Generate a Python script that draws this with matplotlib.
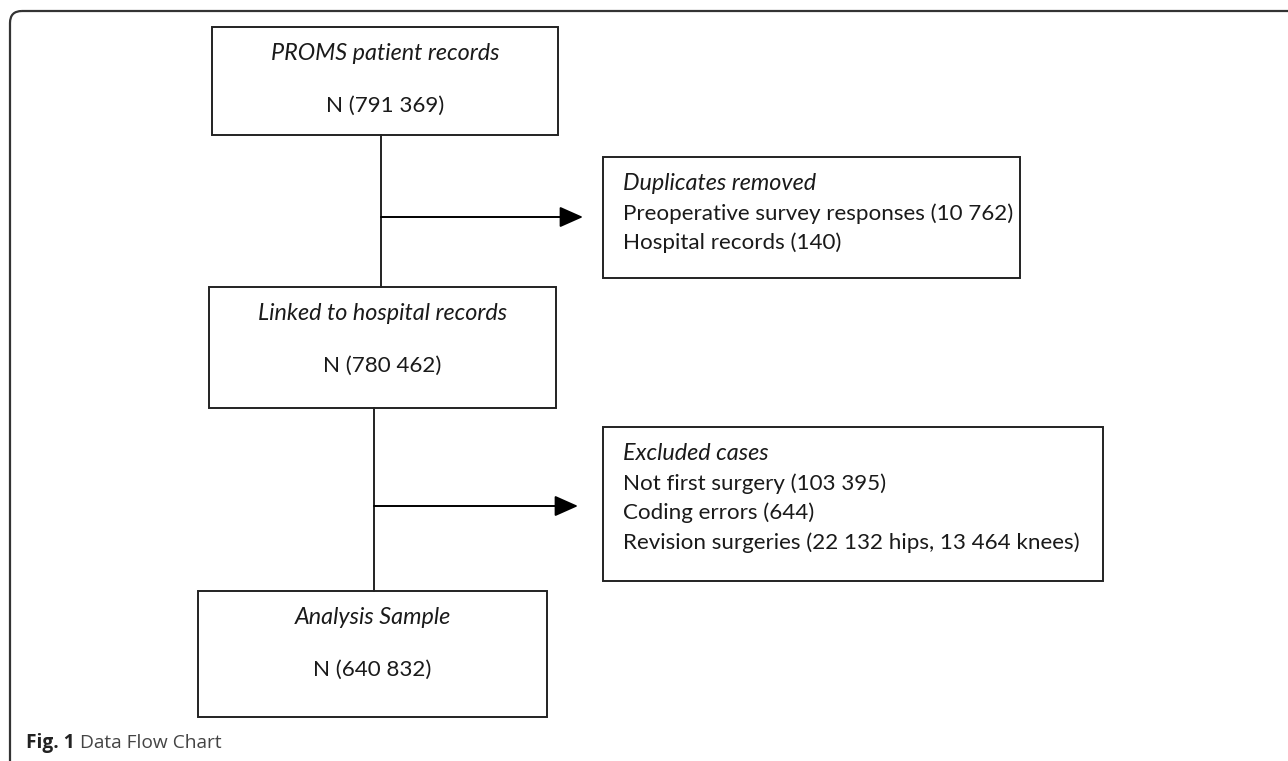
import matplotlib
matplotlib.use("Agg")
import matplotlib.pyplot as plt
from matplotlib.patches import FancyBboxPatch, Rectangle

# textos del diagrama
titulos_principales = ["PROMS patient records", "Linked to hospital records", "Analysis Sample"]
conteos_principales = ["N (791 369)", "N (780 462)", "N (640 832)"]

titulo_duplicados = "Duplicates removed"
lineas_duplicados = ["Preoperative survey responses (10 762)", "Hospital records (140)"]

titulo_excluidos = "Excluded cases"
lineas_excluidos = ["Not first surgery (103 395)", "Coding errors (644)",
                    "Revision surgeries (22 132 hips, 13 464 knees)"]

leyenda_fig = "Fig. 1"
leyenda_texto = "Data Flow Chart"

W, H = 1288, 761
fig = plt.figure(figsize=(W / 100, H / 100), dpi=100)
ax = fig.add_axes([0, 0, 1, 1])
ax.set_xlim(0, W)
ax.set_ylim(H, 0)
ax.axis("off")

color_linea = "#222222"
color_texto = "#1a1a1a"
fuente = "Lato"
tam = 16.1
tam_it = 16.8

# marco exterior redondeado
marco = FancyBboxPatch((10, 11), W + 40, H + 40,
                       boxstyle="round,pad=0,rounding_size=12",
                       fill=False, ec="#333333", lw=1.6)
ax.add_patch(marco)

# cajas principales (x0, y0, x1, y1) en pixeles
cajas = [(212, 27, 558, 135), (209, 287, 556, 408), (198, 591, 547, 717)]
for (x0, y0, x1, y1), t, n in zip(cajas, titulos_principales, conteos_principales):
    ax.add_patch(Rectangle((x0, y0), x1 - x0, y1 - y0, fill=False, ec=color_linea, lw=1.4))
    cx = (x0 + x1) / 2
    ax.text(cx, y0 + 26, t, ha="center", va="center", style="italic",
            fontsize=tam_it, family=fuente, color=color_texto)
    ax.text(cx, y0 + 79, n, ha="center", va="center",
            fontsize=tam, family=fuente, color=color_texto)

# cajas laterales
laterales = [((603, 157, 1020, 278), titulo_duplicados, lineas_duplicados),
             ((603, 427, 1103, 581), titulo_excluidos, lineas_excluidos)]
for (x0, y0, x1, y1), t, lineas in laterales:
    ax.add_patch(Rectangle((x0, y0), x1 - x0, y1 - y0, fill=False, ec=color_linea, lw=1.4))
    ax.text(x0 + 20, y0 + 27, t, ha="left", va="center", style="italic",
            fontsize=tam_it, family=fuente, color=color_texto)
    for i, l in enumerate(lineas):
        ax.text(x0 + 20, y0 + 27 + 29.5 * (i + 1), l, ha="left", va="center",
                fontsize=tam, family=fuente, color=color_texto)

# conectores verticales
ax.plot([381, 381], [135, 287], color=color_linea, lw=1.4)
ax.plot([374, 374], [408, 591], color=color_linea, lw=1.4)

# flechas horizontales
for xv, y, xt in [(381, 217, 583), (374, 506, 578)]:
    ax.annotate("", xy=(xt, y), xytext=(xv, y),
                arrowprops=dict(arrowstyle="-|>,head_length=0.9,head_width=0.4",
                                color="black", lw=1.4, shrinkA=0, shrinkB=0,
                                mutation_scale=16))

# leyenda de la figura
t1 = ax.text(26, 743, leyenda_fig + " ", ha="left", va="center", fontweight="bold",
             fontsize=13.8, family="Open Sans", color="#222222")
fig.canvas.draw()
bb = t1.get_window_extent()
x_dat = ax.transData.inverted().transform((bb.x1, 0))[0]
ax.text(x_dat, 743, leyenda_texto, ha="left", va="center",
        fontsize=13.8, family="Open Sans", color="#444444")

fig.savefig("out.png", dpi=100)
